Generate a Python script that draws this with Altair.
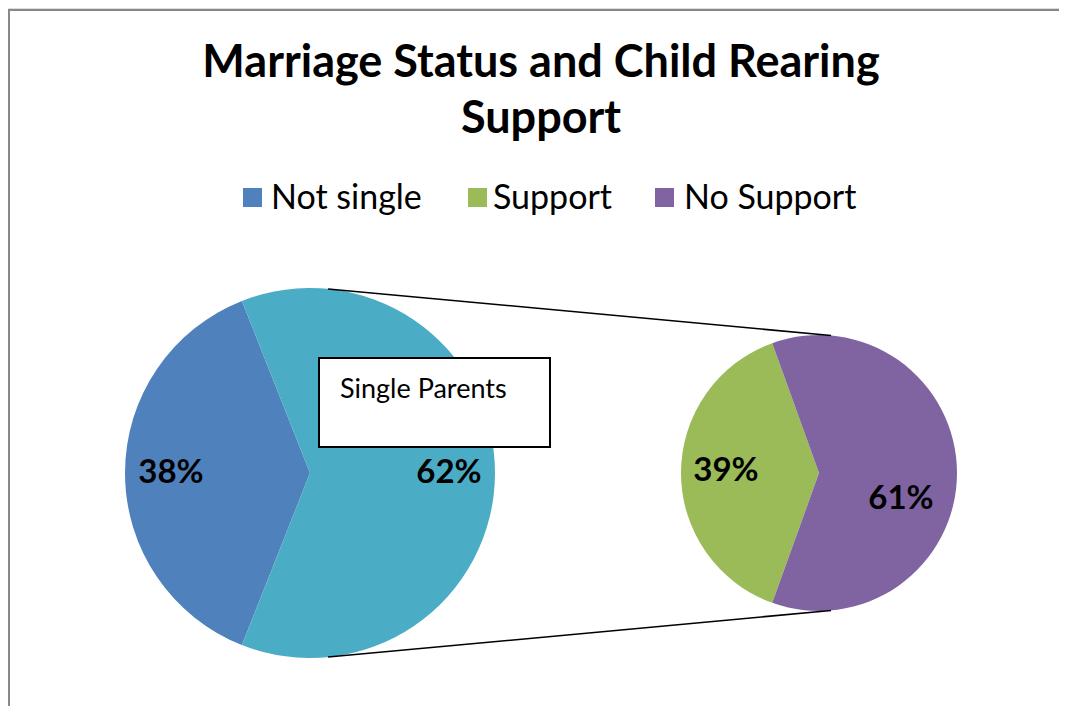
import math
import altair as alt
import pandas as pd

# ---- data ----
title_lines = ["Marriage Status and Child Rearing", "Support"]
main_categories = ["Not single", "Single Parents"]
main_values = [38, 62]
sub_categories = ["Support", "No Support"]
sub_values = [39, 61]
legend_labels = ["Not single", "Support", "No Support"]
all_categories = ["Not single", "Single Parents", "Support", "No Support"]
colors = ["#4F81BD", "#4BACC6", "#9BBB59", "#8064A2"]
box_label = "Single Parents"

# ---- layout ----
W, H = 1051, 698
FONT = "Lato"
L_CX, L_CY, L_R = 302, 465, 185
R_CX, R_CY, R_R = 811, 465, 138
legend_sq_x = [244.5, 469.5, 656.5]
legend_txt_x = [263, 485, 676]
legend_y = 189.5
PCT_SIZE = 33

main_df = pd.DataFrame({"cat": main_categories, "val": main_values, "ord": [0, 1]})
main_df["lbl"] = main_df["val"].astype(str) + "%"
sub_df = pd.DataFrame({"cat": sub_categories, "val": sub_values, "ord": [0, 1]})
sub_df["lbl"] = sub_df["val"].astype(str) + "%"

color_scale = alt.Scale(domain=all_categories, range=colors)


def start_angle(first_val):
    # first slice centred on 9 o'clock (270 deg)
    return math.radians(270 - first_val / 100 * 360 / 2)


l_start = start_angle(main_values[0])
r_start = start_angle(sub_values[0])

theta_l = alt.Theta("val:Q", stack=True,
                    scale=alt.Scale(range=[l_start, l_start + 2 * math.pi]))
theta_r = alt.Theta("val:Q", stack=True,
                    scale=alt.Scale(range=[r_start, r_start + 2 * math.pi]))

base_l = alt.Chart(main_df).encode(
    theta=theta_l, order=alt.Order("ord:Q"),
    x=alt.value(L_CX), y=alt.value(L_CY))
arc_l = base_l.mark_arc(radius=L_R).encode(
    color=alt.Color("cat:N", scale=color_scale, legend=None))
txt_l = base_l.mark_text(radius=139, font=FONT, fontSize=PCT_SIZE, fontWeight="bold",
                         color="black", baseline="middle").encode(text="lbl:N")
left = alt.layer(arc_l, txt_l)

base_r = alt.Chart(sub_df).encode(
    theta=theta_r, order=alt.Order("ord:Q"),
    x=alt.value(R_CX), y=alt.value(R_CY))
arc_r = base_r.mark_arc(radius=R_R).encode(
    color=alt.Color("cat:N", scale=color_scale, legend=None))
txt_r1 = base_r.mark_text(radius=93, dy=-2, font=FONT, fontSize=PCT_SIZE, fontWeight="bold",
                          color="black", baseline="middle").encode(
    text="lbl:N", opacity=alt.condition(alt.datum.cat == sub_categories[0], alt.value(1), alt.value(0)))
txt_r2 = base_r.mark_text(radius=82, dy=26, font=FONT, fontSize=PCT_SIZE, fontWeight="bold",
                          color="black", baseline="middle").encode(
    text="lbl:N", opacity=alt.condition(alt.datum.cat == sub_categories[1], alt.value(1), alt.value(0)))
right = alt.layer(arc_r, txt_r1, txt_r2)

# connector lines (from top/bottom of big pie to top/bottom of small pie)
ang_l = math.radians(5.6)
ang_r = math.radians(5.0)
dummy = pd.DataFrame({"k": [0]})
lines = []
for sgn in (-1, 1):
    x1 = L_CX + L_R * math.sin(ang_l)
    y1 = L_CY + sgn * L_R * math.cos(ang_l)
    x2 = R_CX + R_R * math.sin(ang_r)
    y2 = R_CY + sgn * R_R * math.cos(ang_r)
    lines.append(alt.Chart(dummy).mark_rule(color="black", strokeWidth=1.5).encode(
        x=alt.value(x1), y=alt.value(y1), x2=alt.value(x2), y2=alt.value(y2)))

# Single Parents box label
box = alt.Chart(dummy).mark_rect(fill="white", stroke="black", strokeWidth=2).encode(
    x=alt.value(311), x2=alt.value(542), y=alt.value(350), y2=alt.value(439))
box_txt = alt.Chart(pd.DataFrame({"t": [box_label]})).mark_text(
    font=FONT, fontSize=27, align="left", baseline="alphabetic", color="black").encode(
    text="t:N", x=alt.value(332), y=alt.value(390))

# title
title_layers = []
for i, line in enumerate(title_lines):
    title_layers.append(alt.Chart(pd.DataFrame({"t": [line]})).mark_text(
        font=FONT, fontSize=45, fontWeight="bold", align="center",
        baseline="alphabetic", color="black").encode(
        text="t:N", x=alt.value(533), y=alt.value(69 + i * 56)))

# legend
leg_layers = []
for i, lab in enumerate(legend_labels):
    leg_layers.append(alt.Chart(pd.DataFrame({"t": [lab]})).mark_square(
        size=361, opacity=1, color=colors[all_categories.index(lab)]).encode(
        x=alt.value(legend_sq_x[i]), y=alt.value(legend_y)))
    leg_layers.append(alt.Chart(pd.DataFrame({"t": [lab]})).mark_text(
        font=FONT, fontSize=34, align="left", baseline="alphabetic", color="black").encode(
        text="t:N", x=alt.value(legend_txt_x[i]), y=alt.value(legend_y + 11)))

# chart area border (top and left visible)
border = [
    alt.Chart(dummy).mark_rule(color="#888888", strokeWidth=2).encode(
        x=alt.value(0), x2=alt.value(W + 10), y=alt.value(2), y2=alt.value(2)),
    alt.Chart(dummy).mark_rule(color="#888888", strokeWidth=2).encode(
        x=alt.value(1), x2=alt.value(1), y=alt.value(2), y2=alt.value(H + 10)),
]

chart = alt.layer(
    *border, left, right, *lines, box, box_txt, *title_layers, *leg_layers
).resolve_scale(theta="independent").properties(
    width=W, height=H, padding=0, autosize=alt.AutoSizeParams(type="none")
).configure_view(stroke=None).configure(background="white")

chart.save("out.html", embed_options={"renderer": "svg", "actions": False})
